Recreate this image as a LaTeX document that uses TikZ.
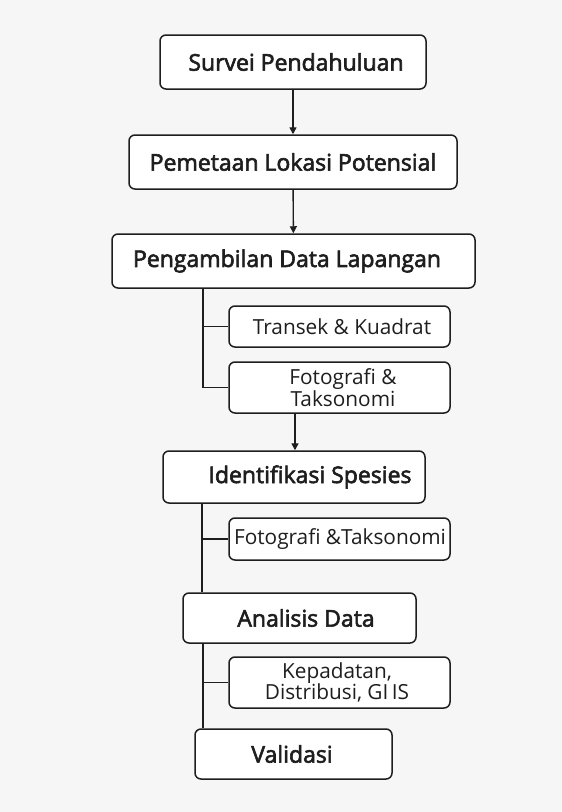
\documentclass[tikz,border=0pt]{standalone}
\usepackage{fontspec}
\setmainfont{Open Sans}
\newfontfamily\mainfnt[FakeBold=2.6]{Open Sans}
\usetikzlibrary{arrows.meta}
\definecolor{bg}{RGB}{246,246,246}
\definecolor{ink}{RGB}{30,30,30}
\begin{document}
\begin{tikzpicture}[x=1pt,y=-1pt,
  box/.style={draw=ink,line width=1.5pt,rounded corners=6pt,fill=white,inner sep=0pt},
  maintxt/.style={font=\mainfnt\fontsize{23}{23}\selectfont,text=ink,inner sep=0pt},
  subtxt/.style={font=\fontsize{20.8}{19}\selectfont,text=ink,inner sep=0pt,align=center},
  conn/.style={draw=ink,line width=1.4pt},
  arr/.style={conn,-{Triangle[length=7pt,width=7pt]}}]
\fill[bg] (0,0) rectangle (562,812);
\useasboundingbox (0,0) rectangle (562,812);
% main boxes
\node[box,minimum width=266pt,minimum height=54pt] (b1) at (293,62) {};
\node[box,minimum width=328pt,minimum height=54pt] (b2) at (293,162) {};
\node[box,minimum width=363pt,minimum height=54pt] (b3) at (293.5,261) {};
\node[box,minimum width=262pt,minimum height=52pt] (b4) at (294,477) {};
\node[box,minimum width=233pt,minimum height=50pt] (b5) at (299.5,618) {};
\node[box,minimum width=197pt,minimum height=50pt] (b6) at (293.5,754) {};
% sub boxes
\node[box,minimum width=221pt,minimum height=41pt] (s1) at (339.5,326.5) {};
\node[box,minimum width=221pt,minimum height=51pt] (s2) at (339.5,387.5) {};
\node[box,minimum width=221pt,minimum height=42pt] (s3) at (339.5,539) {};
\node[box,minimum width=221pt,minimum height=51pt] (s4) at (339.5,682.5) {};
% texts
\node[maintxt] (t1) at (296,62) {Survei Pendahuluan};
\node[maintxt] (t2) at (293,162) {Pemetaan Lokasi Potensial};
\node[maintxt] (t3) at (287,261) {Pengambilan Data Lapangan};
\node[maintxt] (t4) at (310,477) {Identifikasi Spesies};
\node[maintxt] (t5) at (306,618) {Analisis Data};
\node[maintxt] (t6) at (292,754) {Validasi};
\node[subtxt] (u1) at (342,326.5) {Transek \& Kuadrat};
\node[subtxt] (u2) at (343,387.5) {Fotografi \&\\Taksonomi};
\node[subtxt] (u3) at (340,539) {Fotografi \&Taksonomi};
\node[subtxt] (u4) at (337,682.5) {Kepadatan,\\Distribusi, GI\,IS};
% connectors
\coordinate (v) at (203,0);
\coordinate (w) at (202,0);
\coordinate (a) at (295,0);
\draw[arr] (b1) -- (b2);
\draw[arr] (b2) -- (b3);
\draw[conn] (v |- b3.south) |- (s2.west);
\draw[conn] (v |- s1.west) -- (s1.west);
\draw[arr] (a |- s2.south) -- (a |- b4.north);
\draw[conn] (w |- b4.south) -- (w |- b5.north);
\draw[conn] (w |- s3.west) -- (s3.west);
\draw[conn] (v |- b5.south) -- (v |- b6.north);
\draw[conn] (v |- s4.west) -- (s4.west);
\end{tikzpicture}
\end{document}
